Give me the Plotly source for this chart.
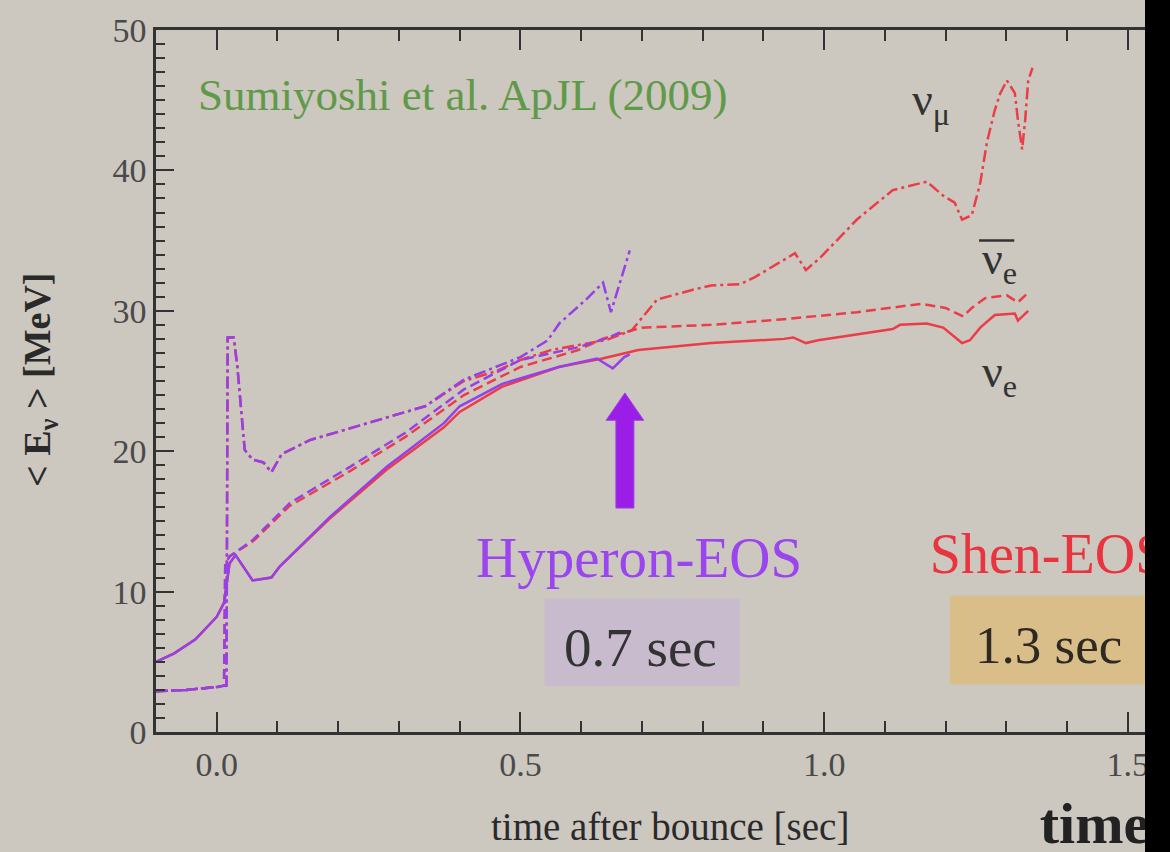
import plotly.graph_objects as go

# ---------------- data ----------------
# Hyperon-EOS (purple), ends at ~0.68 s
hyp_nue_t = [-0.1, -0.07, -0.035, 0.0, 0.012, 0.021, 0.031, 0.059, 0.09, 0.104, 0.186, 0.28, 0.374, 0.40, 0.47, 0.563, 0.626, 0.652, 0.671, 0.68]
hyp_nue_E = [5.0, 5.6, 6.6, 8.2, 9.2, 12.0, 12.6, 10.8, 11.0, 11.8, 15.3, 18.9, 22.0, 23.2, 24.8, 26.0, 26.6, 25.9, 26.7, 26.9]

hyp_nueb_t = [-0.1, -0.05, 0.0, 0.012, 0.014, 0.021, 0.06, 0.12, 0.22, 0.31, 0.407, 0.50, 0.595, 0.646, 0.67]
hyp_nueb_E = [2.9, 3.0, 3.2, 3.3, 12.0, 12.5, 13.7, 16.3, 18.9, 21.3, 24.4, 26.5, 27.4, 28.1, 28.6]

hyp_numu_t = [-0.1, -0.05, 0.0, 0.016, 0.018, 0.028, 0.034, 0.046, 0.059, 0.077, 0.09, 0.107, 0.154, 0.248, 0.343, 0.407, 0.50, 0.545, 0.564, 0.608, 0.636, 0.649, 0.68]
hyp_numu_E = [2.9, 3.0, 3.2, 3.3, 28.1, 28.1, 26.0, 20.1, 19.4, 19.2, 18.5, 19.8, 20.8, 22.0, 23.2, 25.1, 26.7, 27.9, 29.1, 30.8, 32.0, 29.9, 34.3]

# Shen-EOS (red), runs to ~1.34 s
shen_nue_t = [-0.1, -0.07, -0.035, 0.0, 0.012, 0.021, 0.031, 0.059, 0.09, 0.104, 0.186, 0.28, 0.374, 0.40, 0.47, 0.563, 0.635, 0.694, 0.814, 0.934, 0.949, 0.970, 0.99, 1.113, 1.125, 1.169, 1.196, 1.227, 1.24, 1.257, 1.281, 1.314, 1.319, 1.336]
shen_nue_E = [5.0, 5.6, 6.6, 8.2, 9.2, 12.0, 12.6, 10.8, 11.0, 11.8, 15.2, 18.7, 21.7, 22.8, 24.6, 26.0, 26.6, 27.2, 27.7, 28.0, 28.1, 27.7, 27.9, 28.7, 29.0, 29.1, 28.8, 27.7, 27.9, 28.8, 29.7, 29.8, 29.3, 30.0]

shen_nueb_t = [-0.1, -0.05, 0.0, 0.012, 0.014, 0.021, 0.06, 0.12, 0.22, 0.31, 0.407, 0.50, 0.595, 0.635, 0.683, 0.70, 0.814, 0.934, 1.054, 1.16, 1.20, 1.229, 1.243, 1.265, 1.301, 1.319, 1.336]
shen_nueb_E = [2.9, 3.0, 3.2, 3.3, 12.0, 12.5, 13.6, 16.1, 18.6, 21.0, 24.0, 26.0, 27.2, 28.0, 28.6, 28.8, 29.0, 29.4, 29.9, 30.5, 30.2, 29.6, 30.2, 30.9, 31.1, 30.6, 31.3]

shen_numu_t = [-0.1, -0.05, 0.0, 0.016, 0.018, 0.028, 0.034, 0.046, 0.059, 0.077, 0.09, 0.107, 0.154, 0.248, 0.343, 0.407, 0.46, 0.50, 0.55, 0.60, 0.64, 0.683, 0.725, 0.784, 0.814, 0.862, 0.886, 0.952, 0.97, 0.994, 1.054, 1.113, 1.169, 1.196, 1.215, 1.227, 1.243, 1.257, 1.268, 1.281, 1.29, 1.301, 1.314, 1.319, 1.326, 1.331, 1.336, 1.343]
shen_numu_E = [2.9, 3.0, 3.2, 3.3, 28.1, 28.1, 26.0, 20.1, 19.4, 19.2, 18.5, 19.8, 20.8, 22.0, 23.2, 25.0, 25.7, 26.5, 27.2, 27.6, 27.9, 28.6, 30.8, 31.5, 31.8, 31.9, 32.4, 34.1, 32.9, 33.8, 36.5, 38.6, 39.2, 38.2, 37.7, 36.5, 36.8, 39.1, 42.0, 44.3, 45.5, 46.4, 45.5, 43.6, 41.5, 43.6, 46.4, 47.3]

x_ticks = [0.0, 0.5, 1.0, 1.5]
x_ticklabels = ["0.0", "0.5", "1.0", "1.5"]
y_ticks = [0, 10, 20, 30, 40, 50]

# ---------------- style ----------------
BG = "#ccc7bf"
PURPLE = "#9640e6"
RED = "#ec3c48"
SERIF = "Liberation Serif, Times New Roman, serif"
DASH = "10px,5px"
DASHDOT = "12px,4px,3px,4px"

# layout geometry (pixels)
W, H = 1170, 852
L, T = 156, 30
PLOT_H = H - T                 # bottom margin 0, main y-domain starts above x labels
Y_DOM0 = (H - 732) / PLOT_H
X_END = -0.1 + (W - L) / 607.4

fig = go.Figure()

def add_line(t, e, color, dash):
    fig.add_trace(go.Scatter(x=t, y=e, mode="lines",
                             line=dict(color=color, width=2.5, dash=dash),
                             showlegend=False, hoverinfo="skip"))

# red (Shen) first, purple (Hyperon) on top
add_line(shen_nue_t, shen_nue_E, RED, "solid")
add_line(shen_nueb_t, shen_nueb_E, RED, DASH)
add_line(shen_numu_t, shen_numu_E, RED, DASHDOT)
add_line(hyp_nue_t, hyp_nue_E, PURPLE, "solid")
add_line(hyp_nueb_t, hyp_nueb_E, PURPLE, DASH)
add_line(hyp_numu_t, hyp_numu_E, PURPLE, DASHDOT)

# texts that are cut by the black bar (traces sit under the upper shape layer)
fig.add_trace(go.Scatter(x=[1.174], y=[12.3], mode="text", text=["Shen-EOS"],
                         textposition="middle right", cliponaxis=False,
                         textfont=dict(family=SERIF, size=56, color="#e8343f"),
                         showlegend=False, hoverinfo="skip"))
fig.add_trace(go.Scatter(x=[1.355], y=[0.22], mode="text", text=["<b>time</b>"],
                         textposition="middle right", cliponaxis=False,
                         textfont=dict(family=SERIF, size=58, color="#222222"),
                         xaxis="x2", yaxis="y2",
                         showlegend=False, hoverinfo="skip"))

# boxes
fig.add_shape(type="rect", x0=0.540, x1=0.861, y0=3.3, y1=9.5,
              fillcolor="#c7b9cf", line=dict(width=0), opacity=0.85, layer="below")
fig.add_shape(type="rect", x0=1.207, x1=1.60, y0=3.4, y1=9.7,
              fillcolor="#dbbd84", line=dict(width=0), opacity=0.9, layer="below")

# purple arrow
ax, hw, sw = 0.672, 0.031, 0.0148
tip, base, bot = 24.15, 22.2, 15.95
fig.add_shape(type="path",
              path=(f"M {ax-sw},{bot} L {ax-sw},{base} L {ax-hw},{base} L {ax},{tip} "
                    f"L {ax+hw},{base} L {ax+sw},{base} L {ax+sw},{bot} Z"),
              fillcolor="#9a1ee6", line=dict(color="#a040e8", width=1), layer="above")

# black bar on the right
fig.add_shape(type="rect", xref="paper", yref="paper",
              x0=(1145 - L) / (W - L), x1=1.01, y0=-0.05, y1=1.1,
              fillcolor="#000000", line=dict(width=0), layer="above")

# annotations
def note(x, y, text, size, color, xanchor="center", **kw):
    fig.add_annotation(x=x, y=y, text=text, showarrow=False, xanchor=xanchor,
                       font=dict(family=SERIF, size=size, color=color), **kw)

note(0.406, 45.4, "Sumiyoshi et al. ApJL (2009)", 45, "#5f9a48")
note(0.695, 12.4, "Hyperon-EOS", 57, "#9a45ee")
note(0.697, 6.0, "0.7 sec", 55, "#333333")
note(1.37, 6.2, "1.3 sec", 53, "#2e2a22")
note(1.142, 44.8, "ν<sub>μ</sub>", 46, "#333333", xanchor="left")
note(1.257, 33.5, "ν<sub>e</sub>", 46, "#333333", xanchor="left")
note(1.257, 25.4, "ν<sub>e</sub>", 46, "#333333", xanchor="left")
# overline for anti-neutrino
fig.add_shape(type="line", x0=1.255, x1=1.313, y0=35.0, y1=35.0,
              line=dict(color="#333333", width=2.5))

# axis titles
fig.add_annotation(xref="paper", yref="paper", x=(40 - L) / (W - L), y=(H - 380) / PLOT_H,
                   xanchor="center", yanchor="middle",
                   text="<b>< E<sub>ν</sub> > [MeV]</b>", textangle=-90, showarrow=False,
                   font=dict(family=SERIF, size=38, color="#2a2a2a"))
fig.add_annotation(xref="paper", yref="paper", x=(670 - L) / (W - L), y=(H - 826) / PLOT_H,
                   xanchor="center", yanchor="middle",
                   text="time after bounce [sec]", showarrow=False,
                   font=dict(family=SERIF, size=39, color="#2a2a2a"))

fig.update_layout(
    width=W, height=H,
    margin=dict(l=L, r=0, t=T, b=0, autoexpand=False),
    paper_bgcolor=BG, plot_bgcolor=BG, showlegend=False,
    xaxis=dict(range=[-0.1, X_END], tickvals=x_ticks, ticktext=x_ticklabels,
               automargin=False,
               ticks="inside", ticklen=20, tickwidth=2, tickcolor="#333333",
               showline=True, linecolor="#333333", linewidth=2.5, mirror="ticks",
               showgrid=False, zeroline=False,
               minor=dict(dtick=0.1, tick0=0, ticks="inside", ticklen=11, tickwidth=2,
                          tickcolor="#333333", showgrid=False),
               tickfont=dict(family=SERIF, size=34, color="#4a4a4a")),
    yaxis=dict(domain=[Y_DOM0, 1], range=[0, 50], tickvals=y_ticks,
               automargin=False,
               ticks="inside", ticklen=18, tickwidth=2, tickcolor="#333333",
               showline=True, linecolor="#333333", linewidth=2.5, mirror=False,
               showgrid=False, zeroline=False,
               minor=dict(dtick=1, tick0=0, ticks="inside", ticklen=9, tickwidth=2,
                          tickcolor="#333333", showgrid=False),
               tickfont=dict(family=SERIF, size=34, color="#4a4a4a")),
    xaxis2=dict(range=[-0.1, X_END], anchor="y2", visible=False, automargin=False),
    yaxis2=dict(domain=[0, 0.13], range=[0, 1], anchor="x2", visible=False, automargin=False),
)

fig.write_html("out.html")
